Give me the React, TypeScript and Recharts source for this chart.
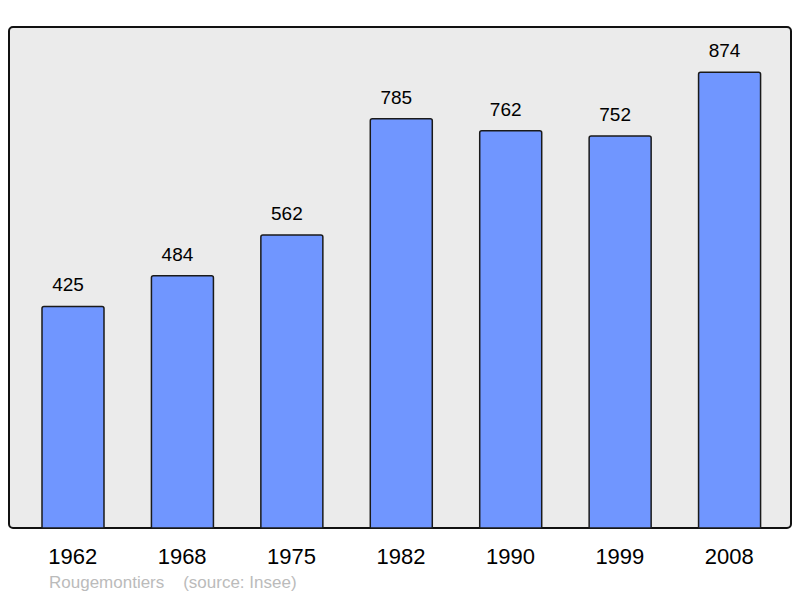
import React from 'react';
import { BarChart, Bar, XAxis, YAxis, LabelList } from 'recharts';

const years = ['1962', '1968', '1975', '1982', '1990', '1999', '2008'];
const population = [425, 484, 562, 785, 762, 752, 874];
const commune = 'Rougemontiers';
const source = '(source: Insee)';

const data = years.map((y, i) => ({ year: y, pop: population[i] }));

const font = '"Liberation Sans", Arial, sans-serif';

export default function App() {
  return (
    <div style={{ position: 'relative', width: 800, height: 598, margin: '-8px 0 0 -8px', fontFamily: font }}>
      <div
        style={{
          position: 'absolute',
          left: 8,
          top: 26,
          width: 780,
          height: 499,
          border: '2px solid #111',
          borderRadius: 5,
          background: '#ebebeb',
        }}
      />
      <div style={{ position: 'absolute', left: 0, top: 0 }}>
        <BarChart
          width={800}
          height={598}
          data={data}
          margin={{ top: 27, right: 16, bottom: 30, left: 18 }}
          barSize={62}
        >
          <XAxis
            dataKey="year"
            height={40}
            axisLine={false}
            tickLine={false}
            tickSize={0}
            tickMargin={20}
            tick={{ fill: '#000', fontSize: 22, fontFamily: font }}
            interval={0}
          />
          <YAxis hide domain={[0, 961]} />
          <Bar
            dataKey="pop"
            fill="#7096ff"
            stroke="#1a1a1a"
            strokeWidth={1.5}
            radius={[2, 2, 0, 0]}
            isAnimationActive={false}
          >
            <LabelList
              dataKey="pop"
              position="top"
              offset={15}
              dx={-5}
              fill="#000"
              fontSize={19}
              fontFamily={font}
            />
          </Bar>
        </BarChart>
      </div>
      <div
        style={{
          position: 'absolute',
          left: 49,
          top: 573,
          fontSize: 17,
          color: '#bbbbbb',
          whiteSpace: 'pre',
        }}
      >
        {commune + '    ' + source}
      </div>
    </div>
  );
}
